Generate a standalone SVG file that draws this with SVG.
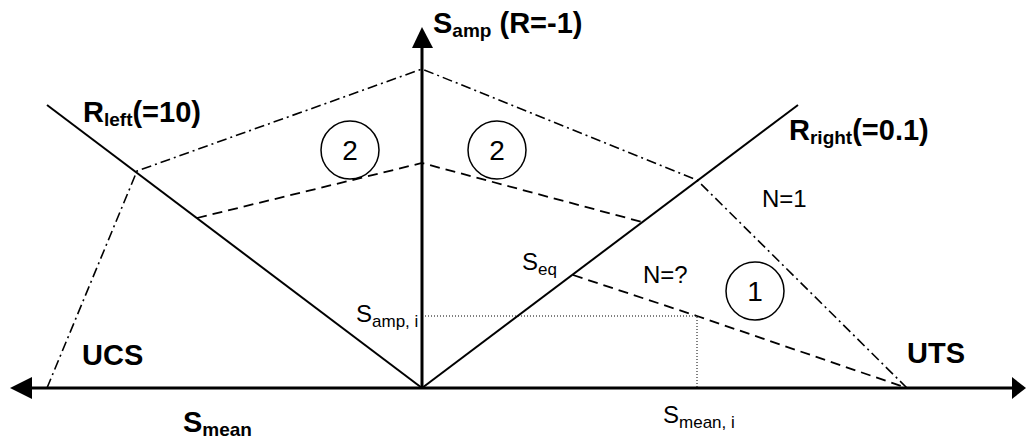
<svg xmlns="http://www.w3.org/2000/svg" width="1026" height="439" viewBox="0 0 1026 439">
<style>
.ax{stroke:#000;stroke-width:3;fill:none}
.r{stroke:#000;stroke-width:2;fill:none}
.dd{stroke:#000;stroke-width:1.6;fill:none;stroke-dasharray:10 4 2 4}
.da{stroke:#000;stroke-width:1.8;fill:none;stroke-dasharray:10 6}
.dt{stroke:#000;stroke-width:1;fill:none;stroke-dasharray:1 2}
.b{font-family:"Liberation Sans",Arial,sans-serif;font-weight:bold;font-size:29px;fill:#000}
.n{font-family:"Liberation Sans",Arial,sans-serif;font-size:24px;fill:#000}
.sb{font-size:19px}
.sn{font-size:17px}
.c{fill:none;stroke:#000;stroke-width:1.5}
.d{font-family:"Liberation Sans",Arial,sans-serif;font-size:28px;fill:#000;text-anchor:middle}
</style>
<rect width="1026" height="439" fill="#fff"/>
<g id="axes">
<line class="ax" x1="20" y1="388" x2="1015" y2="388"/>
<line class="ax" x1="422" y1="388" x2="422" y2="40"/>
<polygon points="10,388 32,377 32,399" fill="#000"/>
<polygon points="1026,388 1012,377 1012,399" fill="#000"/>
<polygon points="422,27 412,48 433,48" fill="#000"/>
</g>
<g id="connectors">
<line class="r" x1="47" y1="105" x2="422" y2="388"/>
<line class="r" x1="798" y1="105" x2="422" y2="388"/>
<polyline class="dd" points="47,388 137,171 422,69 697,180 907,388"/>
<polyline class="da" points="197,218 422,163 642,222"/>
<polyline class="da" points="573,275 697,316 907,388"/>
<polyline class="dt" points="422,316 697,316 697,388"/>
</g>
<g id="circle-2-left"><circle class="c" cx="350" cy="150" r="29"/><text class="d" x="350" y="160">2</text></g>
<g id="circle-2-right"><circle class="c" cx="497" cy="150" r="29"/><text class="d" x="497" y="160">2</text></g>
<g id="circle-1"><circle class="c" cx="755" cy="291" r="29"/><text class="d" x="755" y="301">1</text></g>
<g id="labels">
<text class="b" x="433" y="33">S<tspan class="sb" dy="4">amp</tspan><tspan dy="-4"> (R=-1)</tspan></text>
<text class="b" x="83" y="122">R<tspan class="sb" dy="4">left</tspan><tspan dy="-4">(=10)</tspan></text>
<text class="b" x="789" y="140">R<tspan class="sb" dy="4">right</tspan><tspan dy="-4">(=0.1)</tspan></text>
<text class="b" x="82" y="365">UCS</text>
<text class="b" x="907" y="363">UTS</text>
<text class="b" x="183" y="432">S<tspan class="sb" dy="4">mean</tspan></text>
<text class="n" x="762" y="207">N=1</text>
<text class="n" x="643" y="283">N=?</text>
<text class="n" x="522" y="270">S<tspan class="sn" dy="5">eq</tspan></text>
<text class="n" x="356" y="322">S<tspan class="sn" dy="5">amp, i</tspan></text>
<text class="n" x="663" y="423">S<tspan class="sn" dy="5">mean, i</tspan></text>
</g>
</svg>
